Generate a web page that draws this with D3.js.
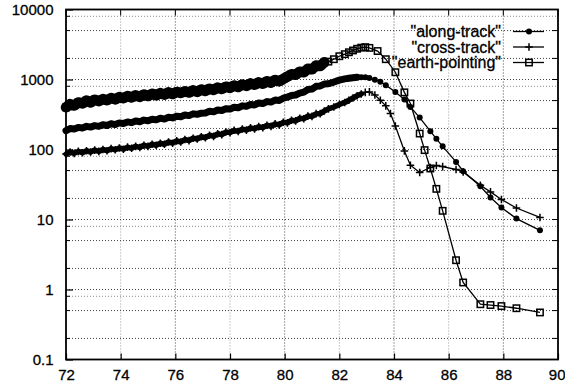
<!DOCTYPE html>
<html><head><meta charset="utf-8">
<script src="https://cdn.jsdelivr.net/npm/d3@7"></script>
<style>body{margin:0;background:#fff}svg{display:block}</style>
</head><body>
<svg id="c" width="565" height="388"></svg>
<script>
// ---- data ----
const denseX = [72.00,72.15,72.30,72.45,72.60,72.75,72.90,73.05,73.20,73.35,73.50,73.65,73.80,73.95,74.10,74.25,
  74.40,74.55,74.70,74.85,75.00,75.15,75.30,75.45,75.60,75.75,75.90,76.05,76.20,76.35,76.50,76.65,
  76.80,76.95,77.10,77.25,77.40,77.55,77.70,77.85,78.00,78.15,78.30,78.45,78.60,78.75,78.90,79.05,
  79.20,79.35,79.50,79.65,79.80,79.95,80.10,80.25,80.40,80.55,80.70,80.85,81.00,81.15,81.30,81.45];
const alongDense = [186,199,196,207,203,214,209,219,214,226,220,233,227,240,235,248,
  242,256,249,263,257,271,265,280,272,289,283,298,293,311,305,323,
  318,330,332,352,345,367,361,383,378,402,395,420,414,440,433,461,
  453,483,476,508,502,540,560,590,600,640,660,720,730,800,810,860];
const crossDense = [86,92,88,94,90,96,92,98,94,100,96,103,99,105,101,108,
  104,111,107,115,111,119,115,123,119,128,123,133,128,139,134,145,
  141,152,147,160,154,168,163,178,174,188,181,196,189,204,197,212,
  205,222,214,232,225,245,240,262,256,280,275,300,297,325,325,355];
const earthDense = [400,445,425,470,455,500,470,515,490,525,505,545,520,560,540,580,
  555,595,565,610,580,625,595,640,605,655,620,665,640,680,650,700,
  665,720,685,740,710,765,730,790,760,820,780,850,810,880,840,910,
  870,945,900,985,940,1020,1100,1190,1170,1290,1270,1420,1400,1580,1560,1760];

const alongTailX = [81.6,81.8,82.0,82.2,82.35,82.5,82.65,82.8,82.95,83.1,83.3,83.5,83.7,84.05,84.38,84.6,84.94,85.33,85.55,85.78,86.27,86.53,87.16,87.53,87.93,88.48,89.34];
const alongTailV = [870,920,980,1020,1040,1060,1075,1080,1075,1050,990,925,830,665,518,406,286,183,142,111,66.5,49,29.9,20.6,14.8,10.3,7.0];
const crossTailX = [81.6,81.8,82.0,82.2,82.35,82.5,82.65,82.8,82.95,83.1,83.3,83.5,83.7,83.87,84.05,84.38,84.6,84.94,85.33,85.55,85.78,86.27,86.53,87.16,87.53,87.93,88.48,89.34];
const crossTailV = [380,405,440,470,505,545,585,620,655,665,600,506,420,327,217,95.5,59.7,46.9,55.3,59,57,51.8,47.9,30.9,24.8,19.3,14.6,10.7];
const earthTailX = [81.6,81.8,82.0,82.2,82.35,82.5,82.65,82.8,82.95,83.1,83.4,83.7,84.05,84.38,84.6,84.94,85.12,85.33,85.55,85.78,86.27,86.53,87.16,87.53,87.93,88.48,89.34];
const earthTailV = [1800,1950,2150,2300,2450,2600,2750,2850,2900,2830,2550,1950,1270,655,454,169,98,53.5,27.4,13.3,2.62,1.26,0.616,0.60,0.58,0.54,0.47];

const xTicks = [72,74,76,78,80,82,84,86,88,90];
const yTicks = [0.1,1,10,100,1000,10000];
const yTickLabels = ["0.1","1","10","100","1000","10000"];
const yGridMinor = [0.2,0.5,2,5,20,50,200,500,2000,5000];
const yGridFaint = [0.8,8,80,800,8000];
const seriesNames = ['"along-track"','"cross-track"','"earth-pointing"'];

// ---- chart ----
const svg = d3.select("#c");
const L=66, R=558, T=9.5, B=359.5;
const x = d3.scaleLinear().domain([72,90]).range([L,R]);
const y = d3.scaleLog().domain([0.1,10000]).range([B,T]);
const font = "'Liberation Sans', Arial, Helvetica, sans-serif";

// grid
const g = svg.append("g");
xTicks.slice(1,-1).forEach((t,i)=>{
  g.append("line").attr("x1",x(t)).attr("x2",x(t)).attr("y1",T).attr("y2",B)
   .attr("stroke", i%2===1 ? "#444" : "#999").attr("stroke-width",1).attr("stroke-dasharray","1,2");
});
yTicks.slice(1,-1).concat(yGridMinor).forEach(v=>{
  g.append("line").attr("x1",L).attr("x2",R).attr("y1",y(v)).attr("y2",y(v))
   .attr("stroke","#444").attr("stroke-width",1).attr("stroke-dasharray","1,2");
});
yGridFaint.forEach(v=>{
  g.append("line").attr("x1",L).attr("x2",R).attr("y1",y(v)).attr("y2",y(v))
   .attr("stroke","#888").attr("stroke-width",1).attr("stroke-dasharray","1,2");
});

// axes (labels + inward ticks)
const ax = svg.append("g").attr("transform",`translate(${L},0)`)
  .call(d3.axisLeft(y).tickValues(yTicks).tickFormat((d,i)=>yTickLabels[i]).tickSize(-7).tickPadding(12.5));
const bx = svg.append("g").attr("transform",`translate(0,${B})`)
  .call(d3.axisBottom(x).tickValues(xTicks).tickFormat(d3.format("d")).tickSize(-6).tickPadding(10));
[ax,bx].forEach(a=>{
  a.select(".domain").remove();
  a.selectAll("text").attr("font-family",font).attr("font-size",15).attr("fill","#000")
    .attr("stroke","#000").attr("stroke-width",0.3);
  a.selectAll("line").attr("stroke","#000").attr("stroke-width",1.2);
});
// keep the last x label inside the window
bx.selectAll(".tick").filter(d=>d===90).select("text").attr("text-anchor","end").attr("dx","7");
// minor ticks left/right, ticks top
yTicks.concat(yGridMinor).forEach(v=>{
  svg.append("line").attr("x1",R).attr("x2",R-6).attr("y1",y(v)).attr("y2",y(v)).attr("stroke","#000");
});
yGridMinor.concat(yGridFaint).forEach(v=>{
  svg.append("line").attr("x1",L).attr("x2",L+4).attr("y1",y(v)).attr("y2",y(v)).attr("stroke","#000");
});
xTicks.forEach(t=>{
  svg.append("line").attr("x1",x(t)).attr("x2",x(t)).attr("y1",T).attr("y2",T+6).attr("stroke","#000");
});
// border
svg.append("rect").attr("x",L).attr("y",T).attr("width",R-L).attr("height",B-T)
  .attr("fill","none").attr("stroke","#000").attr("stroke-width",1.8);

// series
function build(xs, vs){ return xs.map((d,i)=>({x:d, v:vs[i]})); }
const along = build(denseX.concat(alongTailX), alongDense.concat(alongTailV));
const cross = build(denseX.concat(crossTailX), crossDense.concat(crossTailV));
const earth = build(denseX.concat(earthTailX), earthDense.concat(earthTailV));
const line = d3.line().x(d=>x(d.x)).y(d=>y(d.v));

function marker(sel, type){
  if(type==="circle"){
    sel.append("circle").attr("r",3).attr("fill","#000");
  } else if(type==="plus"){
    sel.append("path").attr("d","M-3.8,0H3.8M0,-3.8V3.8").attr("stroke","#000").attr("stroke-width",1.5).attr("fill","none");
  } else {
    sel.append("rect").attr("x",-3.2).attr("y",-3.2).attr("width",6.4).attr("height",6.4)
      .attr("fill","none").attr("stroke","#000").attr("stroke-width",1.5);
  }
}
// where the markers are packed tightly they merge into a solid band
const series = [[along,"circle",82.65,7],[cross,"plus",82.8,5.5],[earth,"square",81.45,10.5]];
series.forEach(([data,type,denseEnd,bw])=>{
  svg.append("path").datum(data.filter(d=>d.x<=denseEnd)).attr("d",line).attr("fill","none").attr("stroke","#000")
    .attr("stroke-width",bw).attr("stroke-linejoin","round").attr("stroke-linecap","round");
  svg.append("path").datum(data).attr("d",line).attr("fill","none").attr("stroke","#000").attr("stroke-width",1.3);
  svg.append("g").selectAll("g").data(data).join("g")
    .attr("transform",d=>`translate(${x(d.x)},${y(d.v)})`)
    .each(function(){ marker(d3.select(this), type); });
});

// legend
const legY = [31.5, 47, 62.5];
seriesNames.forEach((name,i)=>{
  svg.append("text").attr("x",501).attr("y",legY[i]).attr("text-anchor","end")
    .attr("dominant-baseline","central").attr("font-family",font).attr("font-size",16)
    .attr("stroke","#000").attr("stroke-width",0.3).text(name);
  svg.append("line").attr("x1",513).attr("x2",544).attr("y1",legY[i]).attr("y2",legY[i])
    .attr("stroke","#000").attr("stroke-width",1.3);
  const m = svg.append("g").attr("transform",`translate(529,${legY[i]})`);
  marker(m, series[i][1]);
});
</script>
</body></html>
